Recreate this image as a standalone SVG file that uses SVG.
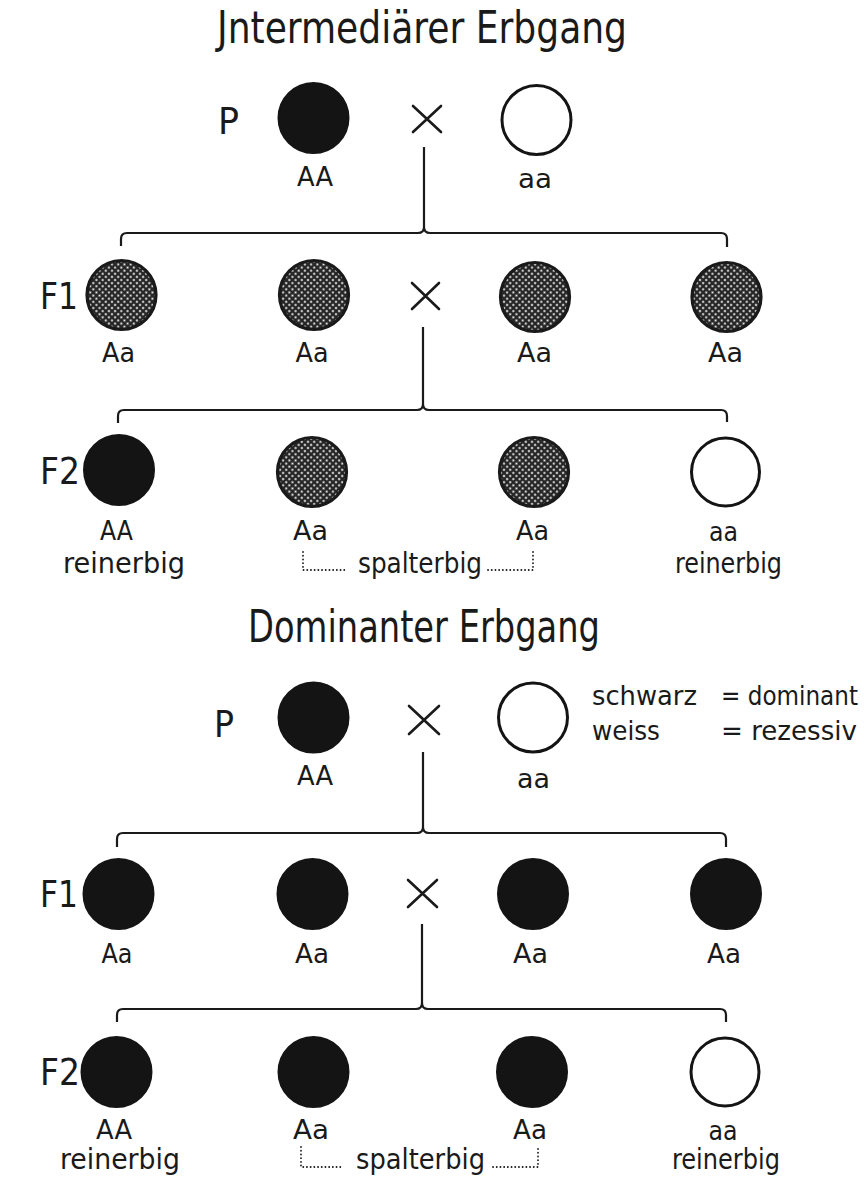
<svg xmlns="http://www.w3.org/2000/svg" width="864" height="1183" viewBox="0 0 864 1183">
  <defs>
    <!-- fine dot screen used for the heterozygous (intermediate) circles -->
    <pattern id="screen" width="4.4" height="4.4" patternUnits="userSpaceOnUse" patternTransform="rotate(45)">
      <rect width="4.4" height="4.4" fill="#262626"/>
      <circle cx="2.2" cy="2.2" r="1.05" fill="#eeeeee"/>
    </pattern>
    <style>
      text { font-family: "DejaVu Sans Condensed", "DejaVu Sans", sans-serif; fill: #1a1a1a; }
      .title { font-size: 44px; }
      .gen { font-size: 38px; }
      .lbl { font-size: 26px; text-anchor: middle; }
      .word { font-size: 29px; text-anchor: middle; }
      .legend { font-size: 27px; }
      .black { fill: #141414; stroke: #141414; stroke-width: 2; }
      .white { fill: #ffffff; stroke: #141414; stroke-width: 3; }
      .mixed { fill: url(#screen); stroke: #1a1a1a; stroke-width: 3.2; }
      .cross { stroke: #1a1a1a; stroke-width: 2.6; fill: none; stroke-linecap: round; }
      .brace { stroke: #1a1a1a; stroke-width: 2.2; fill: none; }
      .dots { stroke: #1a1a1a; stroke-width: 1.8; fill: none; stroke-dasharray: 0.1 3.6; stroke-linecap: round; }
    </style>
  </defs>
  <rect width="864" height="1183" fill="#ffffff"/>

  <!-- ===== Intermediate inheritance ===== -->
  <text id="title-intermediate" class="title" x="217" y="43" textLength="410" lengthAdjust="spacingAndGlyphs">Jntermediärer Erbgang</text>

  <g id="gen-labels-1">
    <text class="gen" x="218" y="134" textLength="21" lengthAdjust="spacingAndGlyphs">P</text>
    <text class="gen" x="40" y="309" textLength="38" lengthAdjust="spacingAndGlyphs">F1</text>
    <text class="gen" x="40" y="484" textLength="40" lengthAdjust="spacingAndGlyphs">F2</text>
  </g>

  <g id="p1-AA">
    <circle class="black" cx="313.5" cy="118" r="35"/>
    <text class="lbl" x="315" y="186" textLength="36" lengthAdjust="spacingAndGlyphs">AA</text>
  </g>
  <g id="p1-cross"><path class="cross" d="M413,106 L441,132 M413,132 L441,106"/></g>
  <g id="p1-aa">
    <circle class="white" cx="536.5" cy="120" r="34.5"/>
    <text class="lbl" x="535" y="188" textLength="34" lengthAdjust="spacingAndGlyphs">aa</text>
  </g>

  <g id="f1-1-a">
    <circle class="mixed" cx="121.5" cy="295" r="34.5"/>
    <text class="lbl" x="118.5" y="362" textLength="33" lengthAdjust="spacingAndGlyphs">Aa</text>
  </g>
  <g id="f1-1-b">
    <circle class="mixed" cx="314" cy="295" r="34.5"/>
    <text class="lbl" x="312" y="362" textLength="33" lengthAdjust="spacingAndGlyphs">Aa</text>
  </g>
  <g id="f1-1-cross"><path class="cross" d="M412,283 L439,309 M412,309 L439,283"/></g>
  <g id="f1-1-c">
    <circle class="mixed" cx="535" cy="297" r="34.5"/>
    <text class="lbl" x="534.5" y="362" textLength="35" lengthAdjust="spacingAndGlyphs">Aa</text>
  </g>
  <g id="f1-1-d">
    <circle class="mixed" cx="726.5" cy="297" r="34.5"/>
    <text class="lbl" x="725.5" y="362" textLength="35" lengthAdjust="spacingAndGlyphs">Aa</text>
  </g>

  <g id="f2-1-AA">
    <circle class="black" cx="119" cy="470" r="35"/>
    <text class="lbl" x="116.5" y="540" textLength="33" lengthAdjust="spacingAndGlyphs">AA</text>
    <text class="word" x="124" y="573" textLength="122" lengthAdjust="spacingAndGlyphs">reinerbig</text>
  </g>
  <g id="f2-1-Aa1">
    <circle class="mixed" cx="312" cy="472" r="34.5"/>
    <text class="lbl" x="310.5" y="540" textLength="35" lengthAdjust="spacingAndGlyphs">Aa</text>
  </g>
  <g id="f2-1-Aa2">
    <circle class="mixed" cx="534" cy="472" r="34.5"/>
    <text class="lbl" x="532.5" y="540" textLength="33" lengthAdjust="spacingAndGlyphs">Aa</text>
  </g>
  <g id="f2-1-aa">
    <circle class="white" cx="725.5" cy="472" r="34"/>
    <text class="lbl" x="723.5" y="541" textLength="29" lengthAdjust="spacingAndGlyphs">aa</text>
    <text class="word" x="728.5" y="573" textLength="107" lengthAdjust="spacingAndGlyphs">reinerbig</text>
  </g>
  <g id="f2-1-split">
    <text class="word" x="420" y="573" textLength="124" lengthAdjust="spacingAndGlyphs">spalterbig</text>
  </g>

  <!-- ===== Dominant inheritance ===== -->
  <text id="title-dominant" class="title" x="248" y="642" textLength="352" lengthAdjust="spacingAndGlyphs">Dominanter Erbgang</text>

  <g id="legend">
    <text class="legend" x="592" y="705" textLength="105" lengthAdjust="spacingAndGlyphs">schwarz</text>
    <text class="legend" x="721" y="705" textLength="137" lengthAdjust="spacingAndGlyphs">= dominant</text>
    <text class="legend" x="592" y="740" textLength="68" lengthAdjust="spacingAndGlyphs">weiss</text>
    <text class="legend" x="721" y="740" textLength="136" lengthAdjust="spacingAndGlyphs">= rezessiv</text>
  </g>

  <g id="gen-labels-2">
    <text class="gen" x="214" y="737" textLength="20" lengthAdjust="spacingAndGlyphs">P</text>
    <text class="gen" x="40" y="907" textLength="38" lengthAdjust="spacingAndGlyphs">F1</text>
    <text class="gen" x="40" y="1085" textLength="40" lengthAdjust="spacingAndGlyphs">F2</text>
  </g>

  <g id="p2-AA">
    <circle class="black" cx="313.5" cy="717.5" r="35"/>
    <text class="lbl" x="315" y="785" textLength="36" lengthAdjust="spacingAndGlyphs">AA</text>
  </g>
  <g id="p2-cross"><path class="cross" d="M409,706 L439,734 M409,734 L439,706"/></g>
  <g id="p2-aa">
    <circle class="white" cx="533" cy="717.5" r="34.5"/>
    <text class="lbl" x="533.5" y="788" textLength="33" lengthAdjust="spacingAndGlyphs">aa</text>
  </g>

  <g id="f1-2-a">
    <circle class="black" cx="118.5" cy="894" r="35"/>
    <text class="lbl" x="117" y="963" textLength="31" lengthAdjust="spacingAndGlyphs">Aa</text>
  </g>
  <g id="f1-2-b">
    <circle class="black" cx="312.5" cy="894" r="35"/>
    <text class="lbl" x="312" y="963" textLength="34" lengthAdjust="spacingAndGlyphs">Aa</text>
  </g>
  <g id="f1-2-cross"><path class="cross" d="M408,880 L437,907 M408,907 L437,880"/></g>
  <g id="f1-2-c">
    <circle class="black" cx="533" cy="894" r="35"/>
    <text class="lbl" x="530.5" y="963" textLength="35" lengthAdjust="spacingAndGlyphs">Aa</text>
  </g>
  <g id="f1-2-d">
    <circle class="black" cx="726" cy="894" r="35"/>
    <text class="lbl" x="724" y="963" textLength="34" lengthAdjust="spacingAndGlyphs">Aa</text>
  </g>

  <g id="f2-2-AA">
    <circle class="black" cx="116.5" cy="1072" r="35"/>
    <text class="lbl" x="114" y="1139" textLength="36" lengthAdjust="spacingAndGlyphs">AA</text>
    <text class="word" x="120" y="1169" textLength="120" lengthAdjust="spacingAndGlyphs">reinerbig</text>
  </g>
  <g id="f2-2-Aa1">
    <circle class="black" cx="313.5" cy="1072" r="35"/>
    <text class="lbl" x="311" y="1139" textLength="36" lengthAdjust="spacingAndGlyphs">Aa</text>
  </g>
  <g id="f2-2-Aa2">
    <circle class="black" cx="532" cy="1072" r="35"/>
    <text class="lbl" x="530" y="1139" textLength="34" lengthAdjust="spacingAndGlyphs">Aa</text>
  </g>
  <g id="f2-2-aa">
    <circle class="white" cx="725" cy="1072" r="34"/>
    <text class="lbl" x="723" y="1140" textLength="29" lengthAdjust="spacingAndGlyphs">aa</text>
    <text class="word" x="726" y="1169" textLength="108" lengthAdjust="spacingAndGlyphs">reinerbig</text>
  </g>
  <g id="f2-2-split">
    <text class="word" x="420.5" y="1169" textLength="129" lengthAdjust="spacingAndGlyphs">spalterbig</text>
  </g>

  <!-- connectors: descent lines, braces and dotted grouping brackets -->
  <g id="connectors">
    <path class="brace" d="M424,147 V227 Q424,233 418,233 H127 Q121,233 121,239 V246 M424,227 Q424,233 430,233 H721 Q727,233 727,239 V247"/>
    <path class="brace" d="M423,327 V404 Q423,410 417,410 H124 Q118,410 118,416 V423 M423,404 Q423,410 429,410 H721 Q727,410 727,416 V422"/>
    <path class="brace" d="M423,752 V827 Q423,833 417,833 H123 Q117,833 117,839 V847 M423,827 Q423,833 429,833 H720 Q726,833 726,839 V847"/>
    <path class="brace" d="M422,924 V1003 Q422,1009 416,1009 H123 Q117,1009 117,1015 V1022 M422,1003 Q422,1009 428,1009 H720 Q726,1009 726,1015 V1022"/>
    <path class="dots" d="M303,552 V570 H347 M488,570 H533 V552"/>
    <path class="dots" d="M301,1147 V1167 H343 M493,1167 H538 V1147"/>
  </g>
</svg>
